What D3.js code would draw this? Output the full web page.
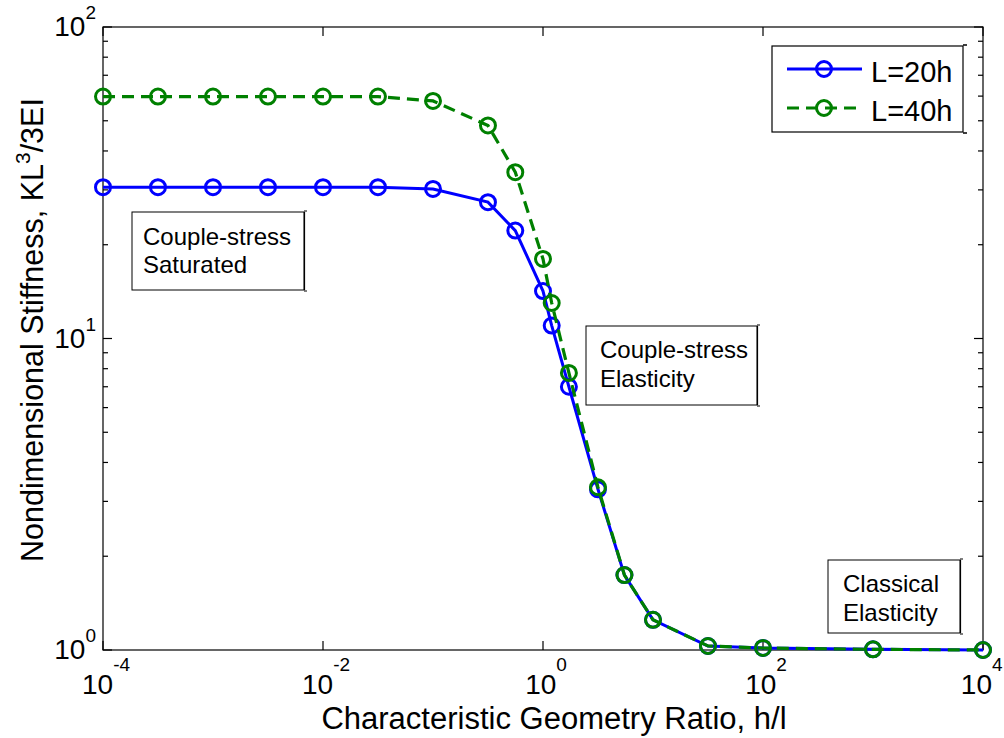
<!DOCTYPE html>
<html>
<head>
<meta charset="utf-8">
<script src="https://cdn.jsdelivr.net/npm/d3@7"></script>
<style>
  html, body { margin: 0; padding: 0; background: #fff; }
  svg { display: block; }
  text { font-family: Arial, "Liberation Sans", sans-serif; fill: #000; }
</style>
</head>
<body>
<svg id="chart" width="1004" height="738"></svg>
<script>
// Geometry ratio h/l at which stiffness was evaluated
const ratio = [1e-4, 3.16e-4, 1e-3, 3.16e-3, 1e-2, 3.16e-2, 0.1, 0.316, 0.56, 1, 1.2, 1.72, 3.16, 5.5, 10, 31.6, 100, 1000, 10000];
// Nondimensional stiffness KL^3/3EI for the two beam lengths
const stiffL20 = [30.6, 30.6, 30.6, 30.6, 30.6, 30.6, 30.2, 27.4, 22.2, 14.2, 11.0, 7.0, 3.28, 1.74, 1.25, 1.03, 1.015, 1.005, 1.0];
const stiffL40 = [59.8, 59.8, 59.8, 59.8, 59.8, 59.8, 57.9, 48.3, 34.2, 18.0, 13.0, 7.75, 3.33, 1.74, 1.25, 1.03, 1.015, 1.005, 1.0];
const seriesNames = ["L=20h", "L=40h"];
const xTickExps = [-4, -2, 0, 2, 4];
const yTickExps = [0, 1, 2];
const regionLabels = [
  ["Couple-stress", "Saturated"],
  ["Couple-stress", "Elasticity"],
  ["Classical", "Elasticity"]
];

const svg = d3.select("#chart");
const W = 1004;
const plotL = 103, plotR = 983, plotT = 27, plotB = 650;

const x = d3.scaleLog().domain([1e-4, 1e4]).range([plotL, plotR]);
const y = d3.scaleLog().domain([1, 100]).range([plotB, plotT]);

const axisG = svg.append("g");

// plot frame
axisG.append("rect")
  .attr("x", plotL).attr("y", plotT)
  .attr("width", plotR - plotL).attr("height", plotB - plotT)
  .attr("fill", "none").attr("stroke", "#000").attr("stroke-width", 1.2);

// x ticks (inward, bottom and top)
xTickExps.forEach(e => {
  const px = x(Math.pow(10, e));
  axisG.append("line").attr("x1", px).attr("x2", px).attr("y1", plotB).attr("y2", plotB - 9)
    .attr("stroke", "#000").attr("stroke-width", 1.2);
  axisG.append("line").attr("x1", px).attr("x2", px).attr("y1", plotT).attr("y2", plotT + 9)
    .attr("stroke", "#000").attr("stroke-width", 1.2);
  const t = axisG.append("text").attr("x", px + 3).attr("y", 694)
    .attr("text-anchor", "middle").style("font-size", "28px");
  t.append("tspan").text("10");
  t.append("tspan").attr("dy", -23).style("font-size", "19px").text(String(e));
  // keep the outermost label inside the figure
  const bb = t.node().getBBox();
  if (bb.x + bb.width > W - 1) t.attr("x", px + 3 - (bb.x + bb.width - (W - 1)));
});

// y ticks: majors and minors, left and right
const yMinor = [];
for (let d = 0; d < 2; d++) for (let m = 2; m <= 9; m++) yMinor.push(m * Math.pow(10, d));
yMinor.forEach(v => {
  const py = y(v);
  axisG.append("line").attr("x1", plotL).attr("x2", plotL + 5).attr("y1", py).attr("y2", py)
    .attr("stroke", "#000").attr("stroke-width", 1.2);
  axisG.append("line").attr("x1", plotR).attr("x2", plotR - 5).attr("y1", py).attr("y2", py)
    .attr("stroke", "#000").attr("stroke-width", 1.2);
});
yTickExps.forEach(e => {
  const py = y(Math.pow(10, e));
  axisG.append("line").attr("x1", plotL).attr("x2", plotL + 9).attr("y1", py).attr("y2", py)
    .attr("stroke", "#000").attr("stroke-width", 1.2);
  axisG.append("line").attr("x1", plotR).attr("x2", plotR - 9).attr("y1", py).attr("y2", py)
    .attr("stroke", "#000").attr("stroke-width", 1.2);
  const t = axisG.append("text").attr("x", 96).attr("y", py + 9)
    .attr("text-anchor", "end").style("font-size", "28px");
  t.append("tspan").text("10");
  t.append("tspan").attr("dy", -17).style("font-size", "19px").text(String(e));
});

// axis titles
svg.append("text").attr("x", 554).attr("y", 729).attr("text-anchor", "middle")
  .style("font-size", "31px").text("Characteristic Geometry Ratio, h/l");
const yt = svg.append("text").attr("transform", "translate(43,330) rotate(-90)")
  .attr("text-anchor", "middle").style("font-size", "30.5px");
yt.append("tspan").text("Nondimensional Stiffness, KL");
yt.append("tspan").attr("dy", -13).style("font-size", "21px").text("3");
yt.append("tspan").attr("dy", 13).text("/3EI");

// data series
const series = [
  { name: seriesNames[0], values: stiffL20, color: "#0000ff", dash: null, width: 3 },
  { name: seriesNames[1], values: stiffL40, color: "#008000", dash: "12,7", width: 3.2 }
];
const line = d3.line().x(d => x(d[0])).y(d => y(d[1]));

series.forEach(s => {
  const pts = ratio.map((r, i) => [r, s.values[i]]);
  const g = svg.append("g");
  g.append("path").datum(pts).attr("d", line)
    .attr("fill", "none").attr("stroke", s.color).attr("stroke-width", s.width)
    .attr("stroke-dasharray", s.dash);
  g.selectAll("circle").data(pts).join("circle")
    .attr("cx", d => x(d[0])).attr("cy", d => y(d[1])).attr("r", 7.5)
    .attr("fill", "none").attr("stroke", s.color).attr("stroke-width", 3);
});

// annotation boxes
const boxes = [
  { x0: 132, y0: 212, x1: 304, y1: 290, tx: 143, b0: 245, b1: 273 },
  { x0: 586, y0: 326, x1: 757, y1: 405, tx: 600, b0: 358, b1: 387 },
  { x0: 828, y0: 560, x1: 960, y1: 633, tx: 843, b0: 592, b1: 621 }
];
boxes.forEach((b, i) => {
  const g = svg.append("g");
  g.append("rect").attr("x", b.x0).attr("y", b.y0).attr("width", b.x1 - b.x0).attr("height", b.y1 - b.y0)
    .attr("fill", "#fff").attr("stroke", "#000").attr("stroke-width", 1);
  g.append("path")
    .attr("d", `M${b.x1},${b.y0 - 1}h3M${b.x1},${b.y1 + 1}h3M${b.x1 + 0.5},${b.y0}V${b.y1}`)
    .attr("stroke", "#000").attr("stroke-width", 1.2).attr("fill", "none");
  g.append("text").attr("x", b.tx).attr("y", b.b0).style("font-size", "24px").text(regionLabels[i][0]);
  g.append("text").attr("x", b.tx).attr("y", b.b1).style("font-size", "24px").text(regionLabels[i][1]);
});

// legend
const lg = svg.append("g");
lg.append("rect").attr("x", 772).attr("y", 46).attr("width", 191).attr("height", 86)
  .attr("fill", "#fff").attr("stroke", "#000").attr("stroke-width", 1.2);
lg.append("path").attr("d", "M963,45h4M963,133h4").attr("stroke", "#000").attr("stroke-width", 1.5);
series.forEach((s, i) => {
  const ly = 69 + i * 39;
  lg.append("line").attr("x1", 787).attr("x2", 862).attr("y1", ly).attr("y2", ly)
    .attr("stroke", s.color).attr("stroke-width", s.width).attr("stroke-dasharray", s.dash);
  lg.append("circle").attr("cx", 824).attr("cy", ly).attr("r", 7.5)
    .attr("fill", "none").attr("stroke", s.color).attr("stroke-width", 3);
  lg.append("text").attr("x", 871).attr("y", ly + 13).style("font-size", "29px").text(s.name);
});
</script>
</body>
</html>
